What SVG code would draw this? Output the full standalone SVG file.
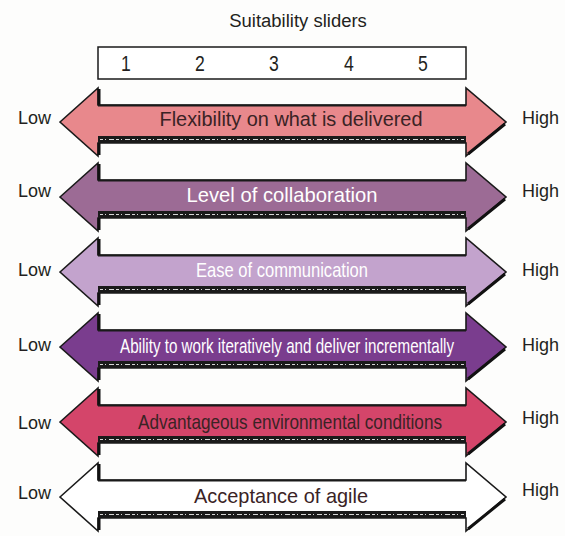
<svg xmlns="http://www.w3.org/2000/svg" width="565" height="536" viewBox="0 0 565 536">
<style>
.t{font-family:"Liberation Sans",Arial,sans-serif;}
.lbl{font-size:18px;fill:#231f20;}
.in{font-size:21px;text-anchor:middle;}
.dk{fill:#3a2325;}
.wt{fill:#ffffff;}
.arrow{stroke:#1a1a1a;stroke-width:1.6;stroke-linejoin:miter;}
.band{fill:#1a1a1a;}
.dash{stroke:#d8d8d8;stroke-width:1.2;stroke-dasharray:3 2 1 3 5 2;fill:none;}
.edge{stroke:#111;stroke-width:3;fill:none;}
</style>
<defs>
<path id="shape" d="M60 0 L98 -34 L98 -17 L466 -17 L466 -34 L506 0 L466 34 L466 21 L98 21 L98 34 Z"/>
<g id="deco">
<rect class="band" x="98" y="14" width="368" height="7"/>
<line class="dash" x1="100" y1="17.5" x2="464" y2="17.5"/>
<path class="edge" d="M99 -33 L99 -17 M99 21 L99 33 M468 32 L505 2"/>
<line x1="98" y1="-16.5" x2="466" y2="-16.5" stroke="#1a1a1a" stroke-width="2.2"/>
</g>
</defs>
<rect width="565" height="536" fill="#fdfdfc"/>
<g id="header">
<text class="t" transform="translate(298,27) scale(0.85,1)" font-size="19" text-anchor="middle" fill="#231f20" textLength="162" lengthAdjust="spacingAndGlyphs">Suitability sliders</text>
<rect x="98" y="47" width="368" height="32" fill="#fff" stroke="#1a1a1a" stroke-width="1.5"/>
<g class="t" font-size="22" text-anchor="middle" fill="#231f20">
<text transform="translate(126,71) scale(0.8,1)">1</text><text transform="translate(200,71) scale(0.8,1)">2</text><text transform="translate(274,71) scale(0.8,1)">3</text><text transform="translate(349,71) scale(0.8,1)">4</text><text transform="translate(423,71) scale(0.8,1)">5</text>
</g>
</g>
<g id="connectors"></g>
<g id="row1" transform="translate(0,122)">
<use href="#shape" class="arrow" fill="#e8888c"/><use href="#deco"/>
<text class="t in dk" transform="translate(291,4) scale(0.82,1)" textLength="320.7" lengthAdjust="spacingAndGlyphs">Flexibility on what is delivered</text>
<text class="t lbl" x="18" y="2">Low</text><text class="t lbl" x="522" y="2">High</text>
</g>
<g id="row2" transform="translate(0,197)">
<use href="#shape" class="arrow" fill="#9c6b95"/><use href="#deco"/>
<text class="t in wt" transform="translate(282,5) scale(0.82,1)" textLength="232.9" lengthAdjust="spacingAndGlyphs">Level of collaboration</text>
<text class="t lbl" x="18" y="0">Low</text><text class="t lbl" x="522" y="0">High</text>
</g>
<g id="row3" transform="translate(0,272)">
<use href="#shape" class="arrow" fill="#c3a3cd"/><use href="#deco"/>
<text class="t in wt" transform="translate(282,5) scale(0.82,1)" textLength="209.8" lengthAdjust="spacingAndGlyphs">Ease of communication</text>
<text class="t lbl" x="18" y="4">Low</text><text class="t lbl" x="522" y="4">High</text>
</g>
<g id="row4" transform="translate(0,347)">
<use href="#shape" class="arrow" fill="#7a3d8e"/><use href="#deco"/>
<text class="t in wt" transform="translate(287,6) scale(0.82,1)" font-size="19" textLength="407.3" lengthAdjust="spacingAndGlyphs">Ability to work iteratively and deliver incrementally</text>
<text class="t lbl" x="18" y="4">Low</text><text class="t lbl" x="522" y="4">High</text>
</g>
<g id="row5" transform="translate(0,422)">
<use href="#shape" class="arrow" fill="#d4456a"/><use href="#deco"/>
<text class="t in dk" transform="translate(290,7) scale(0.82,1)" textLength="370.7" lengthAdjust="spacingAndGlyphs">Advantageous environmental conditions</text>
<text class="t lbl" x="18" y="7">Low</text><text class="t lbl" x="522" y="2">High</text>
</g>
<g id="row6" transform="translate(0,497)">
<use href="#shape" class="arrow" fill="#ffffff"/><use href="#deco"/>
<text class="t in dk" transform="translate(281,6) scale(0.82,1)" textLength="212.2" lengthAdjust="spacingAndGlyphs">Acceptance of agile</text>
<text class="t lbl" x="18" y="2">Low</text><text class="t lbl" x="522" y="-1">High</text>
</g>
</svg>
